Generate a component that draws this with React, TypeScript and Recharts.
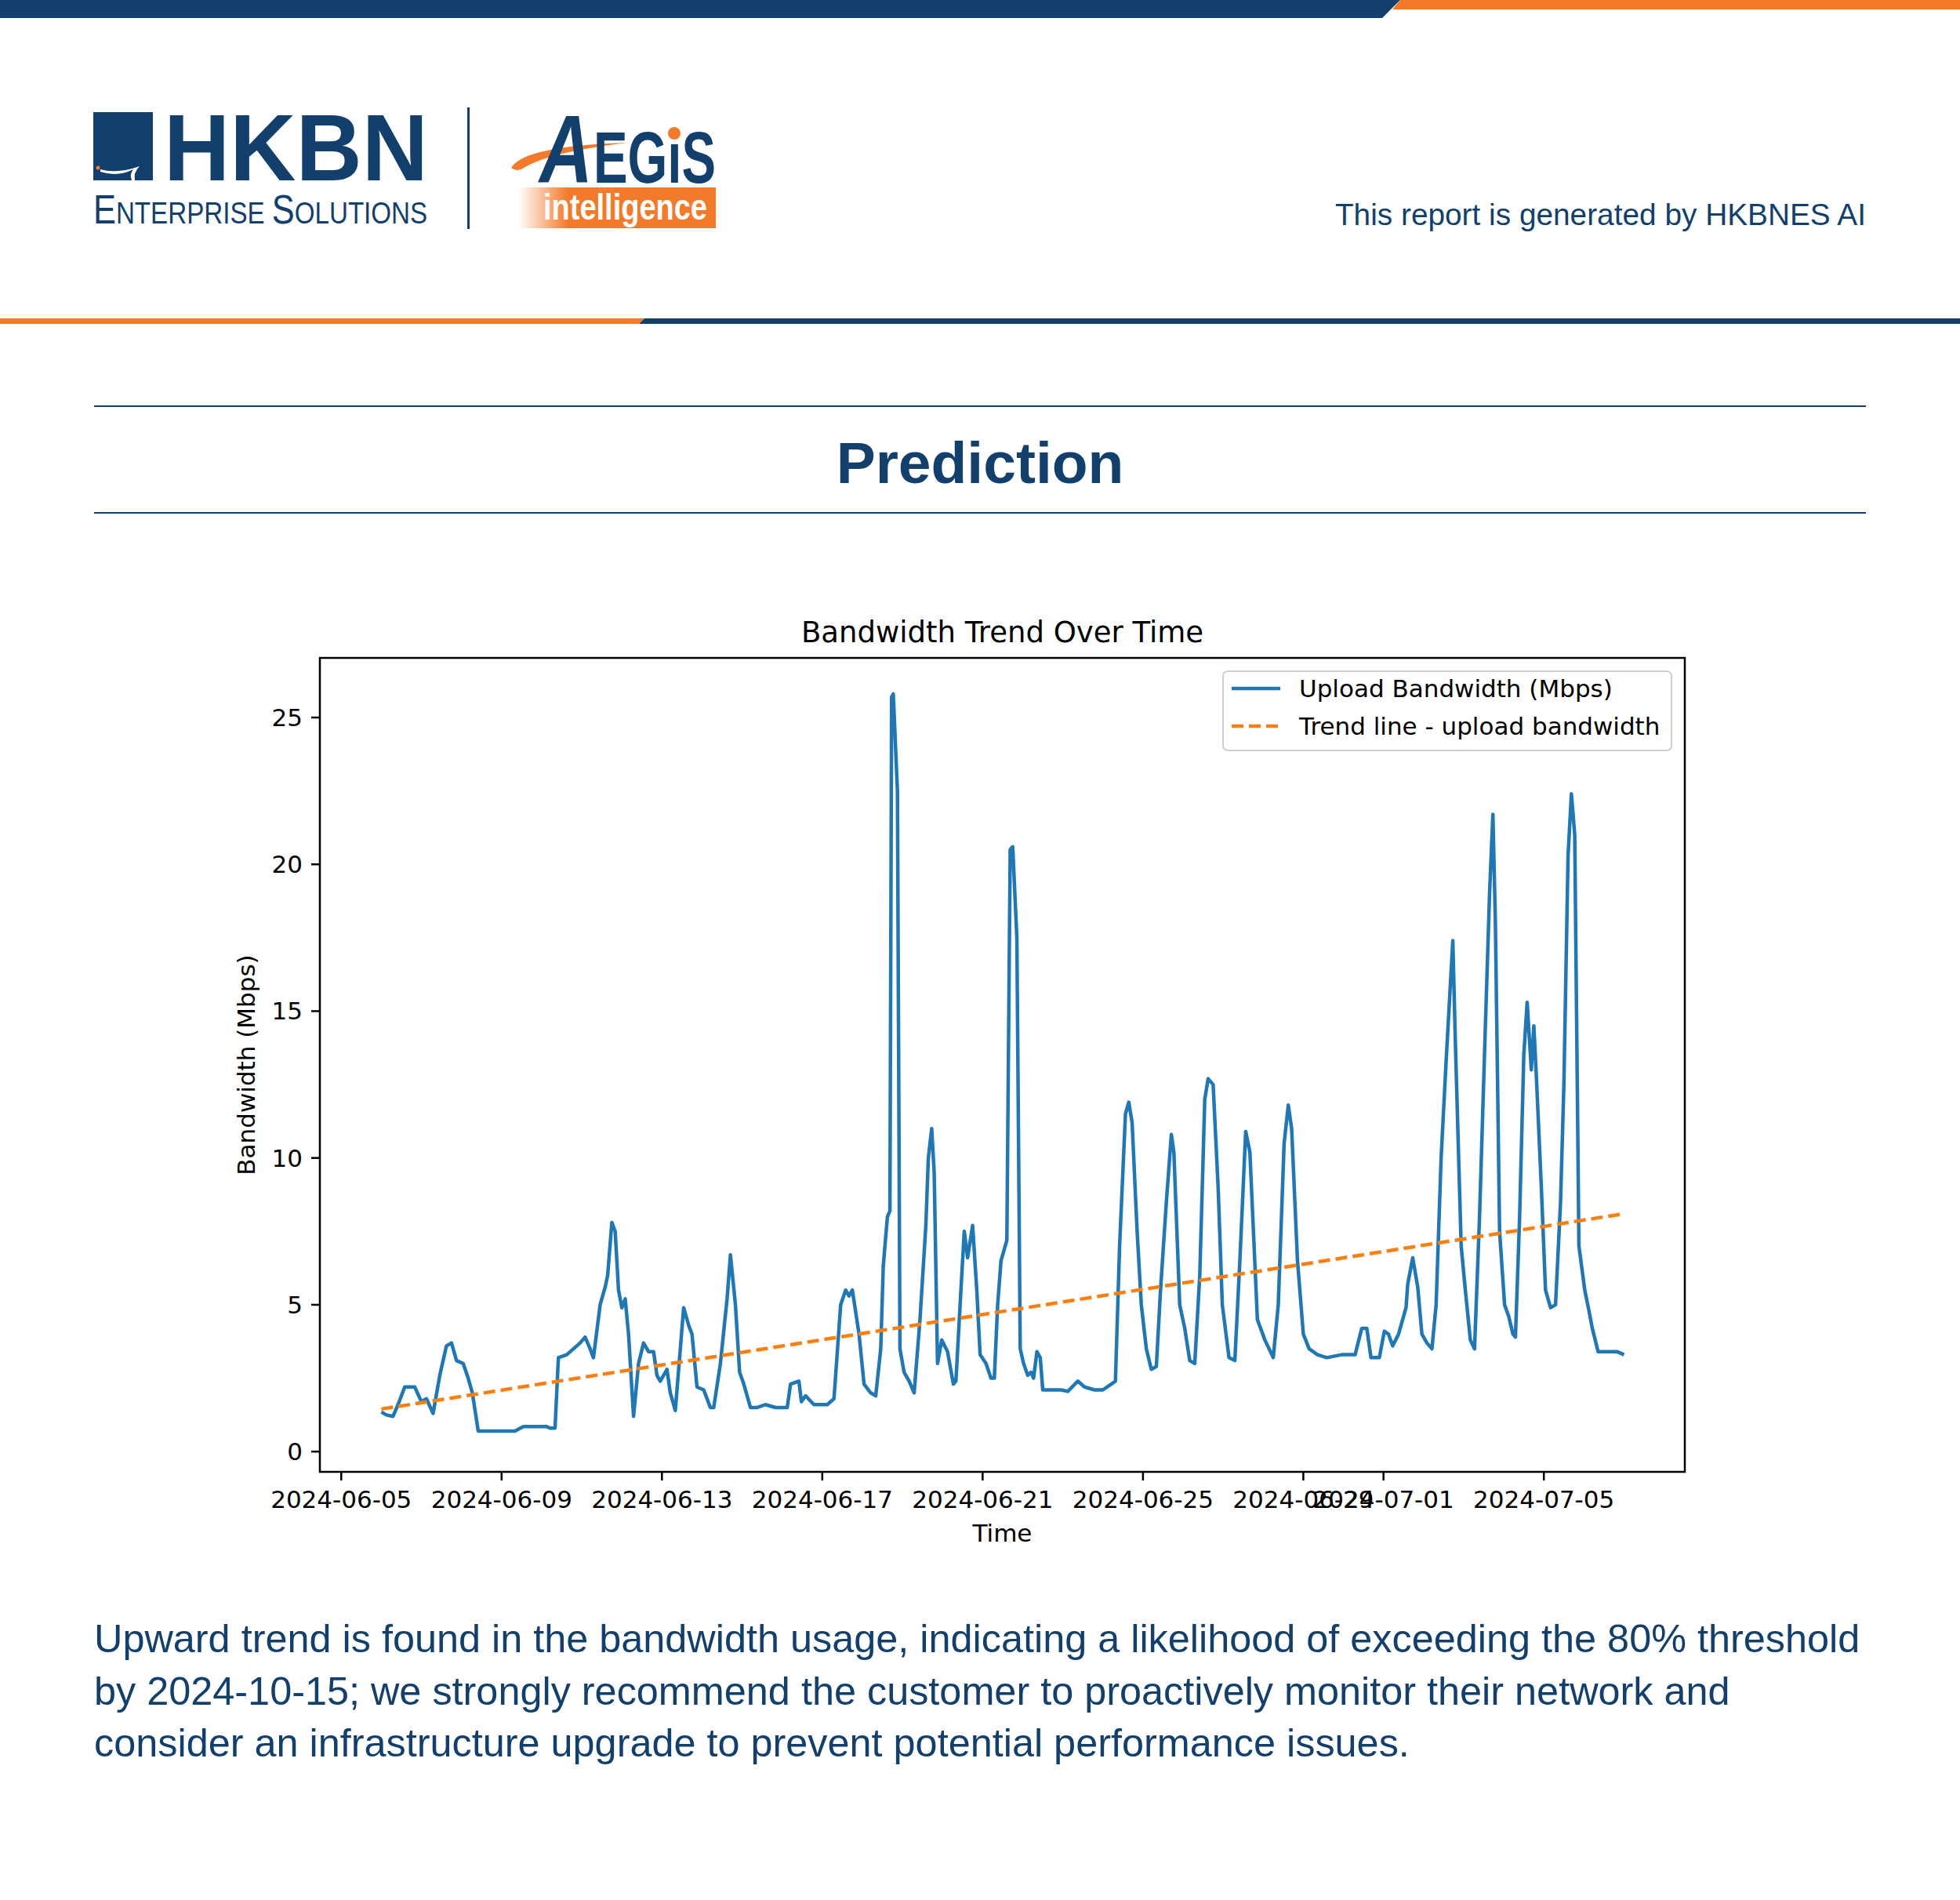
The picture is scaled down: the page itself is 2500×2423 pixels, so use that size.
import React from 'react';
import { LineChart, Line, XAxis, YAxis, Legend, ReferenceArea } from 'recharts';

// ---------- data ----------
const SERIES_START_UTC = Date.UTC(2024, 5, 6, 0, 0, 0);
const HOUR_MS = 3600000;

// [hours after 2024-06-06 00:00, upload Mbps]
const UPLOAD_READINGS: [number, number][] = [
  [0, 1.35], [3, 1.25], [7, 1.2], [10, 1.6], [14, 2.2], [20, 2.2], [24, 1.7], [27, 1.8], [31, 1.3],
  [35, 2.6], [39, 3.6], [42, 3.7], [45, 3.1], [49, 3.0], [52, 2.5], [54.5, 2.0], [58, 0.7], [80, 0.7],
  [85, 0.85], [99, 0.85], [101, 0.8], [104, 0.8], [106, 3.2], [111, 3.3], [115, 3.5], [119, 3.7],
  [122, 3.9], [125, 3.5], [127, 3.2], [131, 5.0], [134, 5.6], [135.5, 6.0], [138, 7.8], [140, 7.5],
  [142, 5.5], [144, 4.9], [146, 5.2], [148, 4.0], [151, 1.2], [154, 3.0], [157, 3.7], [160, 3.4],
  [163, 3.4], [165, 2.6], [167, 2.4], [171, 2.8], [173, 2.0], [176, 1.4], [179, 3.5], [181, 4.9],
  [184, 4.3], [186, 4.0], [189, 2.2], [193, 2.1], [197, 1.5], [199, 1.5], [203, 3.0], [207, 5.2],
  [209, 6.7], [212, 5.0], [214.5, 2.7], [217, 2.3], [221, 1.5], [225, 1.5], [230, 1.6], [236, 1.5],
  [243, 1.5], [245, 2.3], [250, 2.4], [251.5, 1.7], [254, 1.9], [259, 1.6], [267, 1.6], [271, 1.8],
  [275, 5.0], [278, 5.5], [280, 5.3], [282, 5.5], [286, 4.0], [289, 2.3], [293, 2.0], [296, 1.9],
  [299, 3.5], [300.5, 6.3], [301.5, 7.0], [303, 8.0], [304.5, 8.2], [305.5, 25.7], [306.5, 25.8],
  [309, 22.5], [310.5, 3.5], [313, 2.7], [316, 2.4], [319, 2.0], [322.5, 4.5], [326, 7.7],
  [327.5, 10.0], [329.5, 11.0], [331, 9.5], [333, 3.0], [335.5, 3.8], [339, 3.4], [342.5, 2.3],
  [344, 2.4], [347, 5.5], [349, 7.5], [351, 6.6], [354, 7.7], [356.5, 5.5], [358.5, 3.3], [362, 3.0],
  [365, 2.5], [367, 2.5], [369, 5.0], [371, 6.5], [374.5, 7.2], [376.5, 20.5], [378, 20.6],
  [380.5, 17.5], [382.5, 3.5], [384.5, 3.0], [387, 2.6], [389, 2.7], [390.5, 2.5], [392.5, 3.4],
  [394.5, 3.2], [396, 2.1], [407, 2.1], [411, 2.05], [417, 2.4], [421, 2.2], [427, 2.1], [432, 2.1],
  [437, 2.3], [439.5, 2.4], [442, 7.0], [445.5, 11.5], [447.5, 11.9], [449.5, 11.2], [452.5, 7.5],
  [455, 5.0], [458, 3.5], [461, 2.8], [464, 2.9], [466.5, 5.5], [470, 8.5], [473, 10.8],
  [474.5, 10.2], [478, 5.0], [481, 4.2], [484, 3.1], [487, 3.0], [490, 6.0], [493, 12.0],
  [495, 12.7], [498, 12.5], [501, 9.0], [503.5, 5.0], [507.5, 3.2], [511, 3.1], [514, 6.5],
  [517.5, 10.9], [520, 10.2], [524.5, 4.5], [529, 3.8], [534, 3.2], [537, 5.0], [540.5, 10.5],
  [543, 11.8], [545, 11.0], [548.5, 6.5], [552, 4.0], [555.5, 3.5], [560.5, 3.3], [566, 3.2],
  [575, 3.3], [583, 3.3], [587, 4.2], [590, 4.2], [592.5, 3.2], [597.5, 3.2], [600.5, 4.1],
  [603, 4.0], [605.5, 3.6], [609, 4.0], [612, 4.6], [613.5, 4.9], [614.5, 5.7], [617.5, 6.6],
  [620.5, 5.6], [623, 4.0], [626, 3.7], [629, 3.5], [631.5, 5.0], [634.5, 10.0], [637.5, 13.3],
  [641.5, 17.4], [643, 14.0], [646.5, 7.0], [649, 5.5], [652, 3.8], [654.5, 3.5], [657.5, 8.0],
  [661, 14.5], [663.5, 19.0], [665.5, 21.7], [667, 18.0], [669.5, 7.5], [672.5, 5.0], [675, 4.6],
  [677.5, 4.0], [679, 3.9], [681.5, 8.0], [684, 13.5], [686, 15.3], [688.5, 13.0], [690, 14.5],
  [691.5, 12.8], [694.5, 9.0], [697, 5.5], [700, 4.9], [703, 5.0], [706, 8.5], [708, 12.5],
  [710.5, 20.3], [712.5, 22.4], [714.5, 21.0], [717, 7.0], [720.5, 5.5], [723, 4.8], [725, 4.2],
  [728.5, 3.4], [734, 3.4], [740, 3.4], [744, 3.3],
];

// trend line end points [hours, Mbps]
const TREND_READINGS: [number, number][] = [[0, 1.45], [744, 8.1]];

const X_TICK_LABELS = [
  '2024-06-05', '2024-06-09', '2024-06-13', '2024-06-17', '2024-06-21',
  '2024-06-25', '2024-06-29', '2024-07-01', '2024-07-05',
];
const Y_TICKS = [0, 5, 10, 15, 20, 25];
const X_DOMAIN_HOURS = [-36.8, 780.4];
const Y_DOMAIN: [number, number] = [-0.69, 27.03];

const SERIES_NAMES = ['Upload Bandwidth (Mbps)', 'Trend line - upload bandwidth'];
const CHART_TITLE = 'Bandwidth Trend Over Time';
const X_LABEL = 'Time';
const Y_LABEL = 'Bandwidth (Mbps)';
const PAGE_TITLE = 'Prediction';
const HEADER_NOTE = 'This report is generated by HKBNES AI';
const PARAGRAPH_LINES = [
  'Upward trend is found in the bandwidth usage, indicating a likelihood of exceeding the 80% threshold',
  'by 2024-10-15; we strongly recommend the customer to proactively monitor their network and',
  'consider an infrastructure upgrade to prevent potential performance issues.',
];

// ---------- styles ----------
const NAVY = '#123f6b';
const ORANGE = '#f47a2b';
const BLUE = '#1f77b4';
const TREND = '#ff7f0e';
const SANS = '"Liberation Sans", Arial, Helvetica, sans-serif';
const MPL = '"DejaVu Sans", sans-serif';

const uploadData = UPLOAD_READINGS.map(([h, v]) => ({ t: SERIES_START_UTC + h * HOUR_MS, upload: v }));
const trendData = TREND_READINGS.map(([h, v]) => ({ t: SERIES_START_UTC + h * HOUR_MS, trend: v }));
const xTicks = X_TICK_LABELS.map((s) => Date.parse(s + 'T00:00:00Z'));
const xDomain = X_DOMAIN_HOURS.map((h) => SERIES_START_UTC + h * HOUR_MS);

const fmtDate = (ms: number) => {
  const d = new Date(ms);
  const p = (n: number) => String(n).padStart(2, '0');
  return `${d.getUTCFullYear()}-${p(d.getUTCMonth() + 1)}-${p(d.getUTCDate())}`;
};

const renderLegend = (props: any) => {
  const payload = (props && props.payload && props.payload.length ? props.payload : []) as any[];
  const items = SERIES_NAMES.map((name, i) => {
    const p = payload.find((e) => e.value === name);
    return { name, color: p?.color || (i === 0 ? BLUE : TREND), dashed: i === 1 };
  });
  return (
    <div
      style={{
        boxSizing: 'border-box', width: 574, height: 103, border: '2.5px solid #d0d0d0',
        borderRadius: 7, background: 'rgba(255,255,255,0.8)', position: 'relative',
        fontFamily: MPL, fontSize: 31, color: '#000',
      }}
    >
      {items.map((it, i) => (
        <div key={it.name} style={{ position: 'absolute', left: 0, top: (i === 0 ? 21 : 69) - 20, height: 40, display: 'flex', alignItems: 'center' }}>
          <svg width={96} height={40} style={{ display: 'block' }}>
            <line x1={10} x2={72} y1={20} y2={20} stroke={it.color} strokeWidth={4.5} strokeDasharray={it.dashed ? '15 7' : undefined} />
          </svg>
          <span style={{ whiteSpace: 'nowrap', lineHeight: '40px' }}>{it.name}</span>
        </div>
      ))}
    </div>
  );
};

const Header = () => (
  <svg width={2500} height={700} style={{ position: 'absolute', left: 0, top: 0 }}>
    <defs>
      <linearGradient id="intelGrad" x1="0" x2="1" y1="0" y2="0">
        <stop offset="0" stopColor="#ffffff" />
        <stop offset="0.25" stopColor={ORANGE} />
        <stop offset="1" stopColor={ORANGE} />
      </linearGradient>
    </defs>
    {/* top bars */}
    <polygon points="0,0 1786,0 1763,23 0,23" fill={NAVY} />
    <polygon points="1786,0 2500,0 2500,12 1776,12" fill={ORANGE} />
    {/* second bars */}
    <polygon points="0,406 822,406 815,413 0,413" fill={ORANGE} />
    <polygon points="822,406 2500,406 2500,413 815,413" fill={NAVY} />

    {/* HKBN logo */}
    <rect x={119} y={143} width={76} height={87} fill={NAVY} />
    <path d="M128 216 Q150 222 178 212 Q170 220 172 230 L168 230 Q165 222 170 216 Q150 226 128 219 Z" fill="#fff" />
    <circle cx={125} cy={214} r={2.5} fill={ORANGE} />
    <text x={209} y={230} fontFamily={SANS} fontWeight={700} fontSize={121} fill={NAVY} textLength={337} lengthAdjust="spacingAndGlyphs">HKBN</text>
    <g transform="translate(119,285) scale(0.85,1)">
      <text x={0} y={0} fontFamily={SANS} fill={NAVY}>
        <tspan fontSize={51}>E</tspan><tspan fontSize={39}>NTERPRISE </tspan><tspan fontSize={51}>S</tspan><tspan fontSize={39}>OLUTIONS</tspan>
      </text>
    </g>
    <rect x={596} y={137} width={3} height={155} fill={NAVY} />

    {/* AEGiS logo */}
    <path d="M652 214 Q668 186 800 182 Q700 194 668 214 Q660 220 652 214 Z" fill={ORANGE} />
    <g transform="translate(688,233) scale(0.77,1)">
      <text x={0} y={0} fontFamily={SANS} fontWeight={700} fontStyle="italic" fontSize={122} fill={NAVY}>A</text>
    </g>
    <g transform="translate(757,233) scale(0.71,1)">
      <text x={0} y={0} fontFamily={SANS} fontWeight={700} fontSize={92} fill={NAVY}>EGıS</text>
    </g>
    <circle cx={860} cy={170} r={8} fill={ORANGE} />
    <rect x={661} y={239} width={252} height={52} fill="url(#intelGrad)" />
    <text x={693} y={280} fontFamily={SANS} fontWeight={700} fontSize={46} fill="#fff" textLength={209} lengthAdjust="spacingAndGlyphs">intelligence</text>

    <text x={2380} y={287} textAnchor="end" fontFamily={SANS} fontSize={38.8} fill={NAVY}>{HEADER_NOTE}</text>

    {/* title rules */}
    <rect x={120} y={517} width={2260} height={2} fill={NAVY} />
    <text x={1250} y={616} textAnchor="middle" fontFamily={SANS} fontWeight={700} fontSize={75} fill={NAVY}>{PAGE_TITLE}</text>
    <rect x={120} y={653} width={2260} height={2} fill={NAVY} />
  </svg>
);

const Footer = () => (
  <svg width={2500} height={300} style={{ position: 'absolute', left: 0, top: 2000 }}>
    {PARAGRAPH_LINES.map((line, i) => (
      <text key={i} x={120} y={107 + i * 66.5} fontFamily={SANS} fontSize={50.4} fill={NAVY}>{line}</text>
    ))}
  </svg>
);

export default function App() {
  return (
    <div style={{ position: 'absolute', left: 0, top: 0, width: 2500, height: 2423, background: '#fff', overflow: 'hidden' }}>
      <Header />
      <div style={{ position: 'absolute', left: 0, top: 760, width: 2500 }}>
        <svg width={2500} height={80} style={{ display: 'block' }}>
          <text x={1278.5} y={59} textAnchor="middle" fontFamily={MPL} fontSize={37} fill="#000">{CHART_TITLE}</text>
        </svg>
      </div>
      <div style={{ position: 'absolute', left: 128, top: 680 }}>
        <LineChart width={2100} height={1300} data={uploadData} margin={{ top: 159, right: 79, bottom: 3, left: 180 }}>
          <ReferenceArea x1={xDomain[0]} x2={xDomain[1]} y1={Y_DOMAIN[0]} y2={Y_DOMAIN[1]} fill="none" stroke="#000" strokeWidth={2.5} ifOverflow="visible" />
          <XAxis
            dataKey="t" type="number" domain={xDomain} allowDataOverflow ticks={xTicks} interval={0}
            tickFormatter={fmtDate} height={100} axisLine={false} tickSize={11} tickMargin={13}
            tickLine={{ stroke: '#000', strokeWidth: 2.5 }}
            tick={{ fontFamily: MPL, fontSize: 31, fill: '#000' }}
            label={{
              content: (p: any) => {
                const vb = p.viewBox || {};
                return (
                  <text x={vb.x + vb.width / 2} y={vb.y + 89} textAnchor="middle" fontFamily={MPL} fontSize={31} fill="#000">{X_LABEL}</text>
                );
              },
            }}
          />
          <YAxis
            type="number" domain={Y_DOMAIN} allowDataOverflow ticks={Y_TICKS} interval={0} width={100}
            axisLine={false} tickSize={11} tickMargin={11}
            tickLine={{ stroke: '#000', strokeWidth: 2.5 }}
            tick={{ fontFamily: MPL, fontSize: 31, fill: '#000' }}
            label={{
              content: (p: any) => {
                const vb = p.viewBox || {};
                const cx = vb.x + 6;
                const cy = vb.y + vb.height / 2;
                return (
                  <text x={cx} y={cy} transform={`rotate(-90 ${cx} ${cy})`} textAnchor="middle" dominantBaseline="central" fontFamily={MPL} fontSize={31} fill="#000">{Y_LABEL}</text>
                );
              },
            }}
          />
          <Line type="linear" dataKey="upload" name={SERIES_NAMES[0]} stroke={BLUE} strokeWidth={4.5} dot={false} activeDot={false} isAnimationActive={false} strokeLinejoin="round" />
          <Line type="linear" data={trendData} dataKey="trend" name={SERIES_NAMES[1]} stroke={TREND} strokeWidth={4.5} strokeDasharray="15 7" dot={false} activeDot={false} isAnimationActive={false} />
          <Legend
            layout="vertical" align="center" verticalAlign="middle" content={renderLegend}
            wrapperStyle={{ position: 'absolute', left: 1431, top: 175, width: 574, height: 103 }}
          />
        </LineChart>
      </div>
      <Footer />
    </div>
  );
}
